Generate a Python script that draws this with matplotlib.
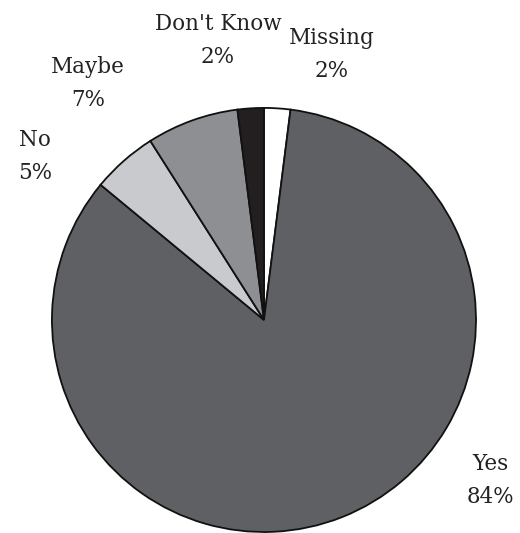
import matplotlib.pyplot as plt

# Réponses (ordre horaire depuis midi)
categories = ['Missing', 'Yes', 'No', 'Maybe', "Don't Know"]
percents = [2, 84, 5, 7, 2]
colors = ['#ffffff', '#5f6064', '#c9cacd', '#8e8f93', '#231f20']

# position des étiquettes (en rayons du camembert)
label_pos = [(0.32, 1.25), (1.07, -0.755), (-1.08, 0.77), (-0.83, 1.113), (-0.217, 1.316)]

fig = plt.figure(figsize=(5.2, 5.33), dpi=100)
ax = fig.add_axes([0, 0, 1, 1])

ax.pie(percents, colors=colors, startangle=90, counterclock=False,
       wedgeprops={'edgecolor': '#111111', 'linewidth': 1.3})

for name, pct, (x, y) in zip(categories, percents, label_pos):
    ax.text(x, y, f'{name}\n{pct}%', ha='center', va='center',
            family='DejaVu Serif', fontsize=15.5, linespacing=1.65, color='#222222')

ax.set_xlim(-1.245, 1.2075)
ax.set_ylim(-1.0047, 1.509)
ax.set_aspect('auto')
ax.axis('off')

fig.savefig('out.png', dpi=100)
